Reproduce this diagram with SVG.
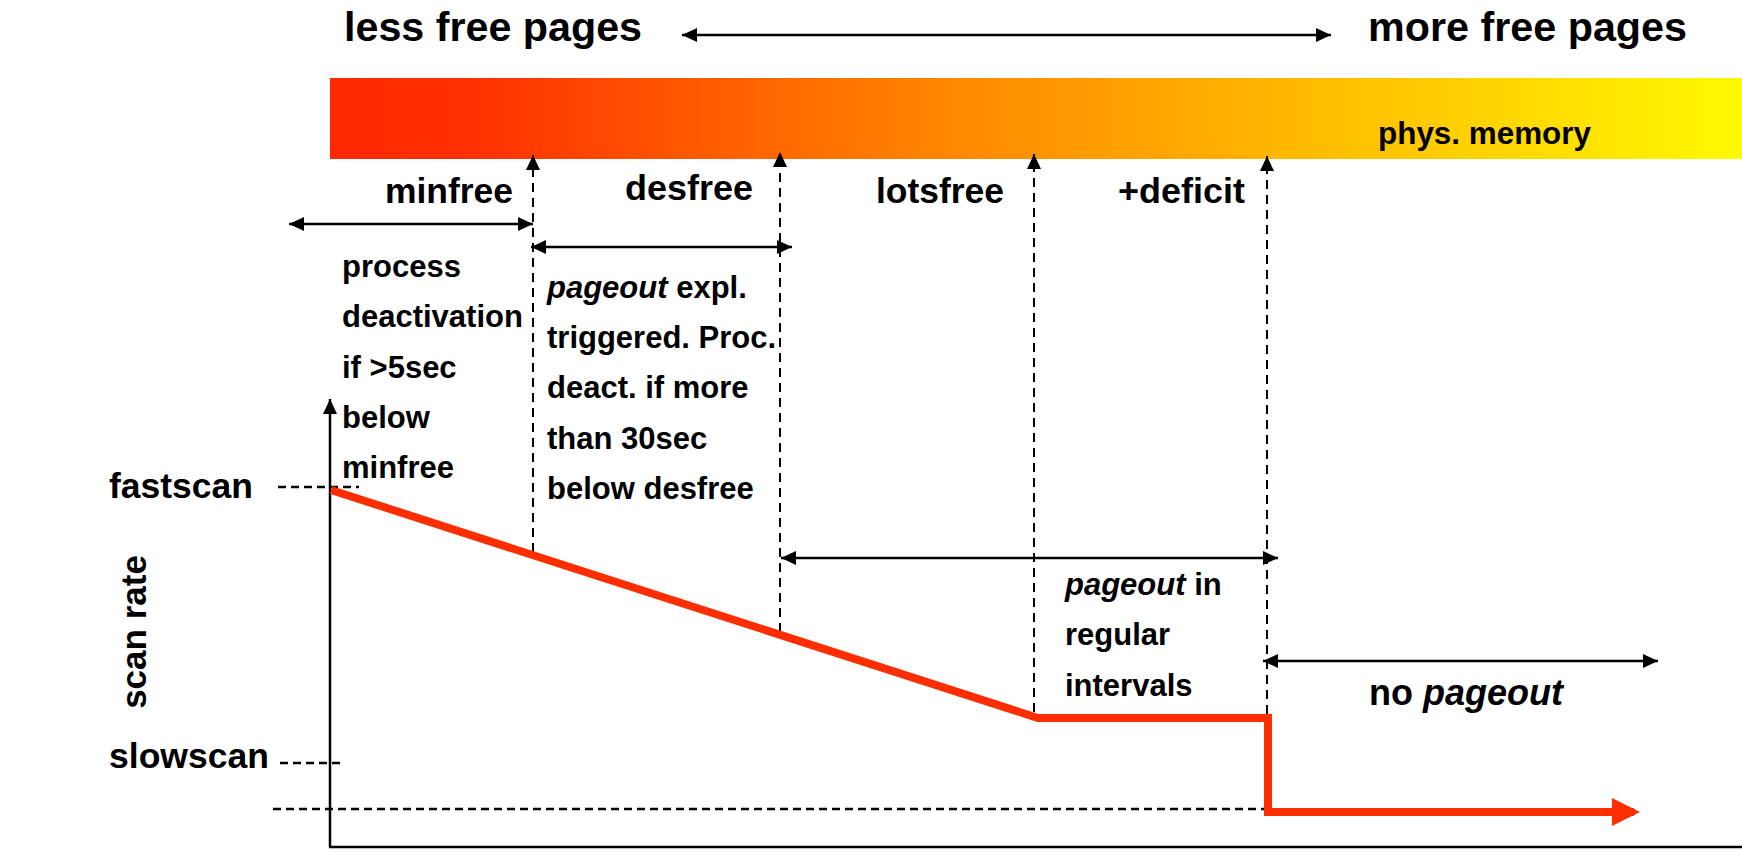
<svg xmlns="http://www.w3.org/2000/svg" width="1742" height="853" viewBox="0 0 1742 853">
<style>
text{font-family:"Liberation Sans",Arial,Helvetica,sans-serif;font-weight:bold;fill:#000}
.big{font-size:41px}
.lab{font-size:35px}
.body{font-size:31px}
.it{font-style:italic}
.dv{stroke:#000;stroke-width:2;stroke-dasharray:9 6;fill:none}
.dh{stroke:#000;stroke-width:2.5;stroke-dasharray:8 5;fill:none}
.arr{stroke:#000;stroke-width:2.5;fill:none}
</style>
<defs>
<linearGradient id="mem" gradientUnits="userSpaceOnUse" x1="330" y1="0" x2="1742" y2="0">
<stop offset="0" stop-color="#FF2800"/>
<stop offset="0.1" stop-color="#FF3000"/>
<stop offset="0.3" stop-color="#FF6400"/>
<stop offset="0.45" stop-color="#FF8A00"/>
<stop offset="0.65" stop-color="#FFB200"/>
<stop offset="0.82" stop-color="#FFD400"/>
<stop offset="1" stop-color="#FFFA00"/>
</linearGradient>
<marker id="ah" markerUnits="userSpaceOnUse" viewBox="0 0 15 14" markerWidth="15" markerHeight="14" refX="15" refY="7" orient="auto-start-reverse">
<path d="M0,0 L15,7 L0,14 z" fill="#000"/>
</marker>
<marker id="rh" markerUnits="userSpaceOnUse" viewBox="0 0 28 28" markerWidth="28" markerHeight="28" refX="22" refY="14" orient="auto">
<path d="M0,0 L28,14 L0,28 z" fill="#FF2E00"/>
</marker>
</defs>

<g id="memory-bar">
<rect x="330" y="78" width="1412" height="81" fill="url(#mem)"/>
<text x="1378" y="144" style="font-size:31px" textLength="213" lengthAdjust="spacingAndGlyphs">phys. memory</text>
</g>

<g id="less-free">
<text class="big" x="344" y="41" textLength="298" lengthAdjust="spacingAndGlyphs">less free pages</text>
</g>
<g id="more-free">
<text class="big" x="1368" y="41" textLength="319" lengthAdjust="spacingAndGlyphs">more free pages</text>
</g>

<g id="minfree">
<text class="lab" x="385" y="203" textLength="128" lengthAdjust="spacingAndGlyphs">minfree</text>
</g>
<g id="desfree">
<text class="lab" x="625" y="200" textLength="128" lengthAdjust="spacingAndGlyphs">desfree</text>
</g>
<g id="lotsfree">
<text class="lab" x="876" y="203" textLength="128" lengthAdjust="spacingAndGlyphs">lotsfree</text>
</g>
<g id="deficit">
<text class="lab" x="1118" y="203" textLength="127" lengthAdjust="spacingAndGlyphs">+deficit</text>
</g>

<g id="process-deactivation">
<text class="body" x="342" y="277">process</text>
<text class="body" x="342" y="327">deactivation</text>
<text class="body" x="342" y="378">if &gt;5sec</text>
<text class="body" x="342" y="428">below</text>
<text class="body" x="342" y="478">minfree</text>
</g>

<g id="pageout-triggered">
<text class="body" x="547" y="298"><tspan class="it">pageout</tspan> expl.</text>
<text class="body" x="547" y="348">triggered. Proc.</text>
<text class="body" x="547" y="398">deact. if more</text>
<text class="body" x="547" y="449">than 30sec</text>
<text class="body" x="547" y="499">below desfree</text>
</g>

<g id="pageout-regular">
<text class="body" x="1065" y="595"><tspan class="it">pageout</tspan> in</text>
<text class="body" x="1065" y="645">regular</text>
<text class="body" x="1065" y="696">intervals</text>
</g>

<g id="no-pageout">
<text class="lab" x="1369" y="705" style="font-size:36px">no <tspan class="it">pageout</tspan></text>
</g>

<g id="fastscan">
<text class="lab" x="109" y="498" textLength="144" lengthAdjust="spacingAndGlyphs">fastscan</text>
</g>
<g id="slowscan">
<text class="lab" x="109" y="768" textLength="160" lengthAdjust="spacingAndGlyphs">slowscan</text>
</g>
<g id="scan-rate">
<text transform="translate(146,632) rotate(-90)" text-anchor="middle" style="font-size:35px">scan rate</text>
</g>

<g id="connectors">
<line class="arr" x1="682" y1="35" x2="1331" y2="35" marker-start="url(#ah)" marker-end="url(#ah)"/>
<line class="dv" x1="533" y1="552" x2="533" y2="155" marker-end="url(#ah)"/>
<line class="dv" x1="780" y1="632" x2="780" y2="152" marker-end="url(#ah)"/>
<line class="dv" x1="1034" y1="712" x2="1034" y2="154" marker-end="url(#ah)"/>
<line class="dv" x1="1267" y1="714" x2="1267" y2="156" marker-end="url(#ah)"/>
<line class="arr" x1="289" y1="224" x2="533" y2="224" marker-start="url(#ah)" marker-end="url(#ah)"/>
<line class="arr" x1="531" y1="247" x2="792" y2="247" marker-start="url(#ah)" marker-end="url(#ah)"/>
<line class="arr" x1="781" y1="558" x2="1278" y2="558" marker-start="url(#ah)" marker-end="url(#ah)"/>
<line class="arr" x1="1263" y1="661" x2="1658" y2="661" marker-start="url(#ah)" marker-end="url(#ah)"/>
<line class="dh" x1="278" y1="487" x2="359" y2="487"/>
<line class="dh" x1="280" y1="763" x2="345" y2="763"/>
<line class="dh" x1="273" y1="809" x2="1267" y2="809"/>
<line class="arr" x1="330" y1="847" x2="330" y2="399" marker-end="url(#ah)"/>
<line class="arr" x1="329" y1="847" x2="1742" y2="847"/>
<polyline points="331,490 1038,718 1268,718 1268,812 1634,812" fill="none" stroke="#FF2E00" stroke-width="8" stroke-linejoin="miter" marker-end="url(#rh)"/>
</g>
</svg>
